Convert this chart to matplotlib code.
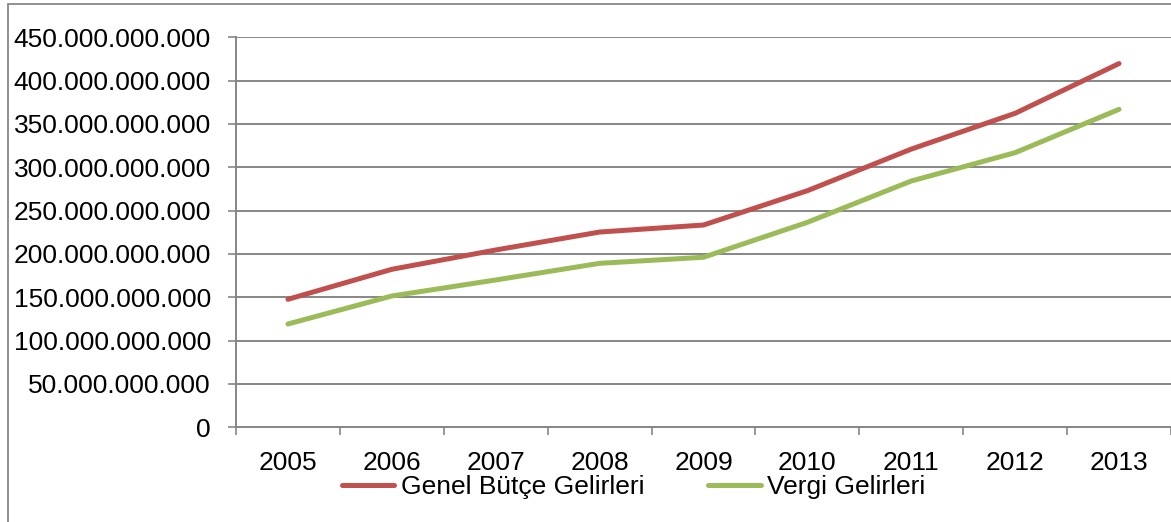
import matplotlib
matplotlib.use("Agg")
import matplotlib.pyplot as plt
from matplotlib.ticker import FuncFormatter, FixedLocator
from matplotlib.patches import Rectangle

plt.rcParams['font.family'] = ['Liberation Sans', 'DejaVu Sans']

years = ['2005', '2006', '2007', '2008', '2009', '2010', '2011', '2012', '2013']
genel_butce = [147.7e9, 182.3e9, 204.6e9, 225.3e9, 233.4e9, 273.0e9, 321.0e9, 362.3e9, 419.7e9]
vergi = [119.2e9, 151.5e9, 170.0e9, 189.2e9, 196.2e9, 236.5e9, 284.2e9, 316.9e9, 366.9e9]
y_ticks = list(range(0, 450_000_000_001, 50_000_000_000))

fig = plt.figure(figsize=(11.71, 5.22), dpi=100)
ax = fig.add_axes([236/1171, 1-427.3/522, 1-236/1171, (427.3-37.3)/522])

x = list(range(len(years)))
ax.plot(x, genel_butce, color='#C0504D', lw=3.6, solid_capstyle='round', label='Genel Bütçe Gelirleri', zorder=3)
ax.plot(x, vergi, color='#9BBB59', lw=3.6, solid_capstyle='round', label='Vergi Gelirleri', zorder=3)

ax.set_xlim(-0.5, len(years) - 0.5)
ax.set_ylim(0, 450e9)
ax.set_yticks(y_ticks)
ax.yaxis.set_major_formatter(FuncFormatter(lambda v, p: f"{int(round(v)):,}".replace(',', '.')))
ax.set_xticks(x)
ax.set_xticklabels(years)
ax.xaxis.set_minor_locator(FixedLocator([i - 0.5 for i in range(len(years) + 1)]))

grid_c = '#868686'
ax.grid(axis='y', color=grid_c, lw=1.4, zorder=0)
for s in ['top', 'right']:
    ax.spines[s].set_visible(False)
for s in ['left', 'bottom']:
    ax.spines[s].set_color(grid_c)
    ax.spines[s].set_linewidth(1.4)

ax.tick_params(axis='y', which='major', length=6, width=1.2, color=grid_c, pad=12, labelsize=19)
ax.tick_params(axis='x', which='major', length=0, pad=17, labelsize=19)
ax.tick_params(axis='x', which='minor', length=6, width=1.2, color=grid_c)

fig.legend(loc='center', bbox_to_anchor=(0.541, 1-487/522), ncol=2, frameon=False,
           fontsize=19, handlelength=2.0, handletextpad=0.25, columnspacing=2.4,
           borderpad=0, borderaxespad=0)

fig.patches.append(Rectangle((8/1171, -0.1), 1.2, 1-4/522+0.1, transform=fig.transFigure,
                             fill=False, edgecolor='#888888', lw=1.3, zorder=-1))

fig.savefig('out.png', dpi=100)
